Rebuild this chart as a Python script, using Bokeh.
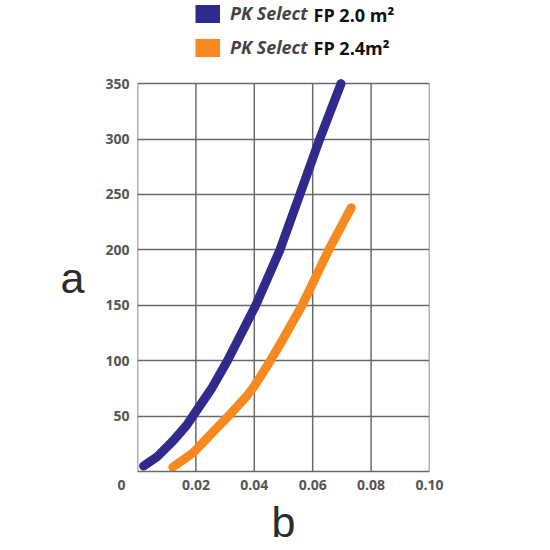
from bokeh.plotting import figure
from bokeh.models import (Range1d, FixedTicker, Legend, LegendItem, Label,
                          LinearAxis)
from bokeh.embed import file_html
from bokeh.resources import INLINE

# values
blue_x = [0.0021, 0.0066, 0.0123, 0.0169, 0.0200, 0.0254, 0.0308,
          0.0405, 0.0488, 0.0556, 0.0624, 0.0697]
blue_y = [5, 13, 28, 42, 54, 75, 100, 150, 200, 250, 300, 350]

orange_x = [0.0121, 0.0191, 0.0282, 0.0308, 0.0374, 0.0400, 0.0448,
            0.0493, 0.0564, 0.0655, 0.0732]
orange_y = [4, 17, 42, 49, 68, 77, 97, 117, 150, 200, 238]

series_brand = ["PK Select", "PK Select"]
series_names = ["FP 2.0 m\u00b2", "FP 2.4m\u00b2"]
series_colors = ["#2f2a8c", "#f7891f"]

x_ticks = [0, 0.02, 0.04, 0.06, 0.08, 0.10]
x_tick_labels = ["0\u2007\u2007\u2007\u2007", "0.02", "0.04", "0.06", "0.08", "0.10"]
y_ticks = [50, 100, 150, 200, 250, 300, 350]
x_max, y_max = 0.10, 350
y_top = 425  # room above the grid for the legend

FONT = "Open Sans"
TITLE_FONT = "Liberation Sans"
GRID = "#6a6a6a"
TICK_TXT = "#555555"
LABEL_TXT = "#2b2b2b"

p = figure(frame_width=292, frame_height=471, output_backend="svg",
           toolbar_location=None,
           x_range=Range1d(0, x_max), y_range=Range1d(0, y_top),
           min_border_left=137, min_border_right=121,
           min_border_top=0, min_border_bottom=70)

p.outline_line_color = None
p.xgrid.visible = False

# grid box: vertical lines from 0 to the top value
p.segment(x0=x_ticks, y0=[0] * len(x_ticks), x1=x_ticks, y1=[y_max] * len(x_ticks),
          line_color=GRID, line_width=1.5)

for ax in (p.xaxis[0], p.yaxis[0]):
    ax.axis_line_color = GRID
    ax.axis_line_width = 1.5
    ax.major_tick_out = 0
    ax.major_tick_in = 0
    ax.minor_tick_out = 0
    ax.minor_tick_in = 0
    ax.major_label_text_font = FONT
    ax.major_label_text_font_style = "bold"
    ax.major_label_text_font_size = "14px"
    ax.major_label_text_color = TICK_TXT

p.yaxis.axis_line_color = None

p.xaxis.ticker = FixedTicker(ticks=x_ticks)
p.xaxis.major_label_overrides = dict(zip(x_ticks, x_tick_labels))
p.xaxis.major_label_standoff = 3
p.xaxis.axis_label = "b"
p.xaxis.axis_label_text_font = TITLE_FONT
p.xaxis.axis_label_text_font_style = "normal"
p.xaxis.axis_label_text_font_size = "43px"
p.xaxis.axis_label_text_color = LABEL_TXT
p.xaxis.axis_label_standoff = 1

p.yaxis.ticker = FixedTicker(ticks=y_ticks)
p.yaxis.major_label_standoff = 8

p.ygrid.ticker = FixedTicker(ticks=y_ticks)
p.ygrid.grid_line_color = GRID
p.ygrid.grid_line_width = 1.5

# vertical axis title "a", kept horizontal via a one-tick axis
a_axis = LinearAxis(ticker=FixedTicker(ticks=[y_max / 2]),
                    major_label_overrides={y_max / 2: "a"},
                    axis_line_color=None, major_tick_out=0, major_tick_in=0,
                    minor_tick_out=0, minor_tick_in=0,
                    major_label_standoff=18,
                    major_label_text_font=TITLE_FONT,
                    major_label_text_font_size="43px",
                    major_label_text_color=LABEL_TXT)
p.add_layout(a_axis, "left")

# curves
p.line(blue_x, blue_y, line_color=series_colors[0], line_width=9,
       line_cap="round", line_join="round")
p.line(orange_x, orange_y, line_color=series_colors[1], line_width=9,
       line_cap="round", line_join="round")

# hidden thick copies, used only for the square legend swatches
swatches = [
    p.line(blue_x, blue_y, line_color=series_colors[0], line_width=18,
           line_cap="butt", visible=False),
    p.line(orange_x, orange_y, line_color=series_colors[1], line_width=18,
           line_cap="butt", visible=False),
]

legend = Legend(items=[LegendItem(label=b, renderers=[r])
                       for b, r in zip(series_brand, swatches)],
                location=(58, 412), orientation="vertical",
                padding=0, margin=0, spacing=10,
                glyph_width=25, glyph_height=23, label_height=18,
                label_standoff=10,
                label_text_font=FONT, label_text_font_style="bold italic",
                label_text_font_size="18px", label_text_color="#444444",
                border_line_alpha=0, background_fill_alpha=0)
p.add_layout(legend, "center")

for i, name in enumerate(series_names):
    p.add_layout(Label(x=0, y=y_max, x_offset=176, y_offset=68.6 - 33 * i,
                       text=name, text_font=FONT, text_font_style="bold",
                       text_font_size="18px", text_color="#111111",
                       text_baseline="middle", text_align="left"))

open("out.html", "w").write(file_html(p, INLINE))
